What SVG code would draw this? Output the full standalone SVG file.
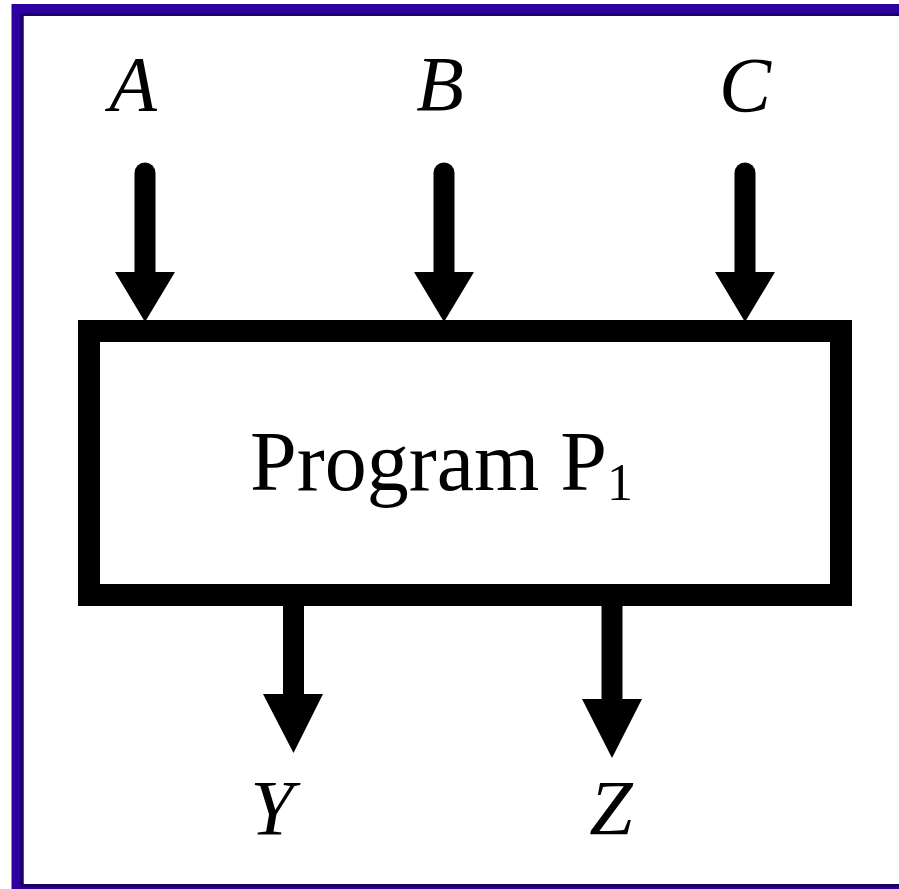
<svg xmlns="http://www.w3.org/2000/svg" width="899" height="889" viewBox="0 0 899 889">
<style>
.lbl{font-family:"Liberation Serif","Times New Roman",serif;font-style:italic;font-size:78px;fill:#000;text-anchor:middle}
.main{font-family:"Liberation Serif","Times New Roman",serif;font-size:84px;fill:#000}
.shaft{stroke:#000;stroke-width:21;fill:none}
.head{fill:#000}
</style>
<rect x="0" y="0" width="899" height="889" fill="#fff"/>
<g id="frame">
<rect x="17.5" y="10" width="892" height="880" fill="none" stroke="#2e00a0" stroke-width="12"/>
<rect x="22" y="14.5" width="883" height="871" fill="none" stroke="#1a0060" stroke-width="3"/>
</g>
<g id="program">
<rect x="89" y="331" width="752" height="264" fill="#fff" stroke="#000" stroke-width="22"/>
<text class="main" x="250" y="490">Program P<tspan font-size="52" dy="10">1</tspan></text>
</g>
<g id="labels">
<text id="A" class="lbl" x="133" y="110">A</text>
<text id="B" class="lbl" x="440" y="110">B</text>
<text id="C" class="lbl" x="745" y="111">C</text>
<text id="Y" class="lbl" x="272" y="834">Y</text>
<text id="Z" class="lbl" x="611" y="834">Z</text>
</g>
<g id="connectors">
<line class="shaft" x1="145" y1="173" x2="145" y2="280" stroke-linecap="round"/>
<polygon class="head" points="115,272 175,272 145,322"/>
<line class="shaft" x1="444" y1="173" x2="444" y2="280" stroke-linecap="round"/>
<polygon class="head" points="414,272 474,272 444,322"/>
<line class="shaft" x1="745" y1="173" x2="745" y2="280" stroke-linecap="round"/>
<polygon class="head" points="715,272 775,272 745,322"/>
<line class="shaft" x1="293.5" y1="600" x2="293.5" y2="700"/>
<polygon class="head" points="263,694 323,694 293.5,753"/>
<line class="shaft" x1="612" y1="600" x2="612" y2="705"/>
<polygon class="head" points="582,699 642,699 612,758"/>
</g>
</svg>
